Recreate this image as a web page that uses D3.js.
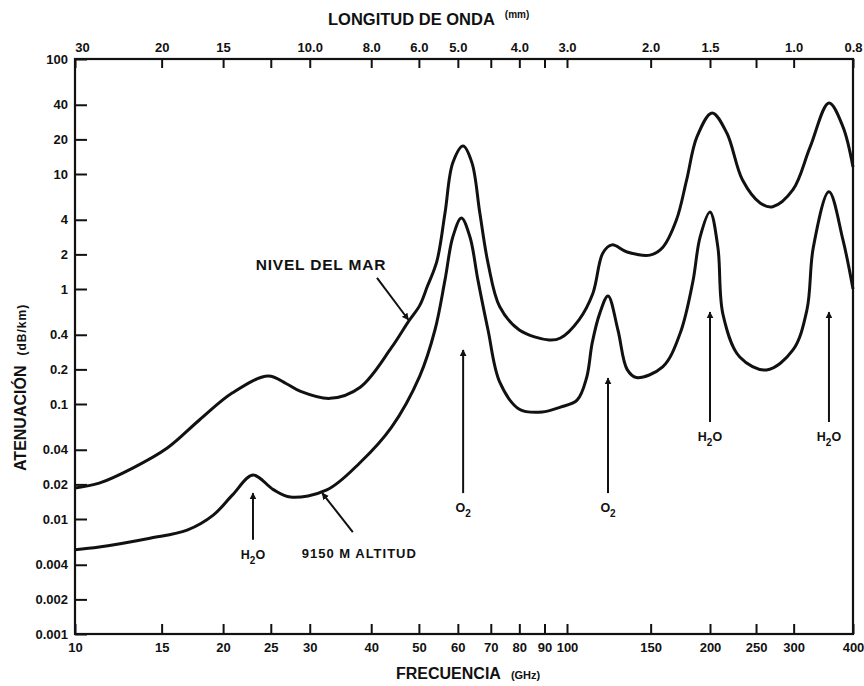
<!DOCTYPE html>
<html>
<head>
<meta charset="utf-8">
<script src="https://cdn.jsdelivr.net/npm/d3@7"></script>
<style>
  body { margin: 0; background: #fff; }
  svg { font-family: "Liberation Sans", Arial, sans-serif; font-weight: bold; }
  .axis text { font-size: 13px; font-weight: bold; fill: #111; }
  .axis line { stroke: #111; stroke-width: 2; }
  .axis path { display: none; }
</style>
</head>
<body>
<div id="chart"></div>
<script>
// frequency (GHz) and attenuation (dB/km)
const seaFreq = [10, 11.2, 13.1, 15.4, 17.9, 20.9, 24.7, 26.9, 28.6, 33, 38, 44, 47.6, 50.2, 52, 54.4, 56.5, 58.6, 61.5, 64.1, 66.5, 69.1, 73, 80, 92, 97, 106, 113.4, 119, 124.4, 133.8, 149.5, 159, 170, 178.6, 187.7, 202, 217, 234, 255, 271, 299, 325, 356, 381, 400];
const seaAtt = [0.0186, 0.0205, 0.0277, 0.0414, 0.0726, 0.125, 0.175, 0.15, 0.13, 0.112, 0.14, 0.31, 0.52, 0.72, 1.05, 1.75, 4.58, 12.5, 17.5, 12.5, 4.58, 1.68, 0.7, 0.44, 0.36, 0.375, 0.54, 0.92, 2.06, 2.42, 2.1, 1.97, 2.3, 4.0, 8.9, 21, 34, 22.7, 8.9, 5.6, 5.2, 7.3, 17.2, 41.4, 25.7, 11.5];

const altFreq = [10, 11.2, 14.2, 16.9, 19.1, 20.9, 23, 25.3, 27.4, 32.5, 37.9, 44, 50.2, 53.9, 56.5, 58.6, 61, 63.5, 65.9, 69.1, 73, 80, 89, 97, 105, 110, 113, 117.3, 122, 128, 133.8, 140, 159, 173, 184, 190.6, 200, 207.8, 213, 231, 263, 299, 320, 330, 356, 381, 400];
const altAtt = [0.0054, 0.0057, 0.0068, 0.008, 0.0108, 0.0162, 0.0241, 0.018, 0.0155, 0.0179, 0.0307, 0.063, 0.175, 0.44, 1.2, 2.83, 4.14, 2.83, 1.2, 0.44, 0.155, 0.09, 0.085, 0.094, 0.108, 0.17, 0.34, 0.62, 0.87, 0.44, 0.2, 0.17, 0.21, 0.41, 1.15, 2.83, 4.68, 2.3, 0.6, 0.256, 0.198, 0.295, 0.66, 2.3, 7.0, 2.67, 1.0];

// axis ticks
const freqTicks = [10, 15, 20, 25, 30, 40, 50, 60, 70, 80, 90, 100, 150, 200, 250, 300, 400];
const waveLabels = { 10: "30", 15: "20", 20: "15", 30: "10.0", 40: "8.0", 50: "6.0", 60: "5.0", 80: "4.0", 100: "3.0", 150: "2.0", 200: "1.5", 300: "1.0", 400: "0.8" };
const attTicks = [100, 40, 20, 10, 4, 2, 1, 0.4, 0.2, 0.1, 0.04, 0.02, 0.01, 0.004, 0.002, 0.001];

const width = 864, height = 686;
const margin = { top: 59, right: 11, bottom: 52, left: 75 };

const svg = d3.select("#chart").append("svg")
  .attr("width", width)
  .attr("height", height);

// hand drawn axis is not perfectly logarithmic, so use a piecewise log scale
const x = d3.scaleLog()
  .domain([10, 100, 400])
  .range([margin.left, 567, width - margin.right]);
const y = d3.scaleLog()
  .domain([0.001, 100])
  .range([height - margin.bottom, margin.top]);

// bottom axis: frequency
svg.append("g")
  .attr("class", "axis")
  .attr("transform", "translate(0," + (height - margin.bottom) + ")")
  .call(d3.axisBottom(x).tickValues(freqTicks).tickSizeInner(-10).tickSizeOuter(0).tickPadding(9)
    .tickFormat(d => String(d)));

// top axis: wavelength
const topAxis = svg.append("g")
  .attr("class", "axis")
  .attr("transform", "translate(0," + margin.top + ")")
  .call(d3.axisTop(x).tickValues(freqTicks).tickSizeInner(-9).tickSizeOuter(0).tickPadding(7)
    .tickFormat(d => waveLabels[d] || ""));
topAxis.selectAll("text").filter(d => d === 10).attr("dx", 7);

// left axis: attenuation
svg.append("g")
  .attr("class", "axis")
  .attr("transform", "translate(" + margin.left + ",0)")
  .call(d3.axisLeft(y).tickValues(attTicks).tickSizeInner(-12).tickSizeOuter(0).tickPadding(7)
    .tickFormat(d => String(d)));

// frame
svg.append("rect")
  .attr("x", margin.left)
  .attr("y", margin.top)
  .attr("width", width - margin.left - margin.right)
  .attr("height", height - margin.top - margin.bottom)
  .attr("fill", "none")
  .attr("stroke", "#111")
  .attr("stroke-width", 2.2);

// curves
const line = d3.line()
  .x(d => x(d[0]))
  .y(d => y(d[1]))
  .curve(d3.curveCatmullRom.alpha(0.5));

[[seaFreq, seaAtt], [altFreq, altAtt]].forEach(function (s) {
  svg.append("path")
    .datum(s[0].map((f, i) => [f, s[1][i]]))
    .attr("fill", "none")
    .attr("stroke", "#111")
    .attr("stroke-width", 3)
    .attr("stroke-linejoin", "round")
    .attr("d", line);
});

// arrow head
svg.append("defs").append("marker")
  .attr("id", "head")
  .attr("viewBox", "0 0 10 10")
  .attr("refX", 9).attr("refY", 5)
  .attr("markerWidth", 7).attr("markerHeight", 7)
  .attr("markerUnits", "userSpaceOnUse")
  .attr("orient", "auto")
  .append("path")
  .attr("d", "M0,0 L10,5 L0,10 Z")
  .attr("fill", "#111");

// molecule arrows: [freq, tail value, tip value, label, subscript, rest]
const molecules = [
  [23, 0.0066, 0.0168, "H", "2", "O"],
  [61.5, 0.0168, 0.295, "O", "2", ""],
  [122, 0.0168, 0.168, "O", "2", ""],
  [200, 0.0697, 0.63, "H", "2", "O"],
  [356, 0.0697, 0.63, "H", "2", "O"]
];

molecules.forEach(function (m) {
  svg.append("line")
    .attr("x1", x(m[0])).attr("y1", y(m[1]))
    .attr("x2", x(m[0])).attr("y2", y(m[2]))
    .attr("stroke", "#111")
    .attr("stroke-width", 2)
    .attr("marker-end", "url(#head)");
  const t = svg.append("text")
    .attr("x", x(m[0]))
    .attr("y", y(m[1]) + 19)
    .attr("text-anchor", "middle")
    .attr("font-size", 12.5)
    .attr("fill", "#111");
  t.append("tspan").text(m[3]);
  t.append("tspan").attr("dy", 5).attr("font-size", 10).text(m[4]);
  if (m[5]) t.append("tspan").attr("dy", -5).text(m[5]);
});

// curve labels
const labels = [
  { text: "NIVEL DEL MAR", f: 23.3, v: 1.46, from: [41.1, 1.25], to: [47.6, 0.54], size: 15.5, spacing: 0.8 },
  { text: "9150 M ALTITUD", f: 28.9, v: 0.00458, from: [36.7, 0.0077], to: [31.8, 0.0168], size: 13, spacing: 1 }
];

labels.forEach(function (l) {
  svg.append("text")
    .attr("x", x(l.f))
    .attr("y", y(l.v))
    .attr("font-size", l.size)
    .attr("letter-spacing", l.spacing)
    .attr("fill", "#111")
    .text(l.text);
  svg.append("line")
    .attr("x1", x(l.from[0])).attr("y1", y(l.from[1]))
    .attr("x2", x(l.to[0])).attr("y2", y(l.to[1]))
    .attr("stroke", "#111")
    .attr("stroke-width", 2)
    .attr("marker-end", "url(#head)");
});

// axis titles
const topTitle = svg.append("text")
  .attr("x", 328)
  .attr("y", 25)
  .attr("font-size", 16.5)
  .attr("fill", "#111");
topTitle.append("tspan").text("LONGITUD DE ONDA");
topTitle.append("tspan").attr("dx", 10).attr("dy", -7).attr("font-size", 10).text("(mm)");

const bottomTitle = svg.append("text")
  .attr("x", 396)
  .attr("y", 679)
  .attr("font-size", 16)
  .attr("fill", "#111");
bottomTitle.append("tspan").text("FRECUENCIA");
bottomTitle.append("tspan").attr("dx", 10).attr("font-size", 11).text("(GHz)");

const leftTitle = svg.append("text")
  .attr("transform", "translate(26,471) rotate(-90)")
  .attr("font-size", 16)
  .attr("fill", "#111");
leftTitle.append("tspan").text("ATENUACIÓN");
leftTitle.append("tspan").attr("dx", 10).attr("font-size", 12).attr("letter-spacing", 1).text("(dB/km)");
</script>
</body>
</html>
